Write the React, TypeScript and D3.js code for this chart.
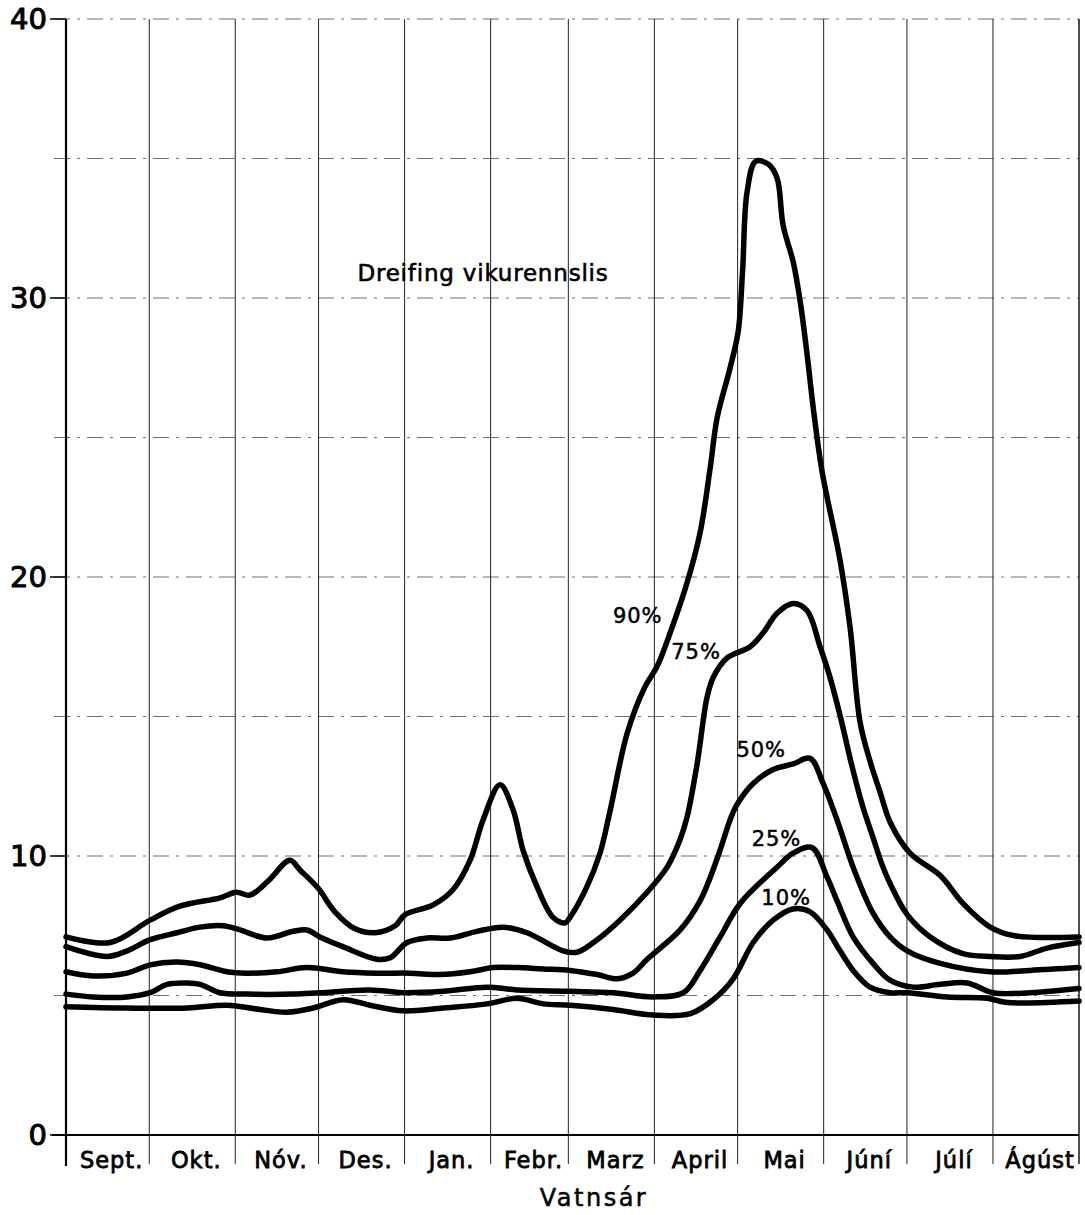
import React from "react";
import * as d3 from "d3";

// Month boundaries (days of the water year, Sept 1 = day 0)
const monthNames = ["Sept.", "Okt.", "Nóv.", "Des.", "Jan.", "Febr.", "Marz", "April", "Mai", "Júní", "Júlí", "Ágúst"];
const monthStartDays = [0, 30, 61, 91, 122, 153, 181, 212, 242, 273, 303, 334, 365];
const yTickLabels = [0, 10, 20, 30, 40];
const yGridValues = [5, 10, 15, 20, 25, 30, 35, 40];

// series: [day of water year, discharge]
const p90: [number, number][] = [
  [0, 7.1], [15.9, 6.9], [30.3, 7.7], [41, 8.2], [55.5, 8.5], [61.3, 8.7], [66.3, 8.6], [72.8, 9.1], [80.7, 9.85], [84.3, 9.5],
  [90.8, 8.85], [96.9, 8.0], [104, 7.4], [111.4, 7.25], [118.6, 7.5], [122.2, 7.9], [132.3, 8.25], [139.5, 8.8], [145.6, 9.85],
  [150.3, 11.3], [156.4, 12.55], [161.1, 11.65], [164.7, 10.2], [169.7, 8.9], [175.5, 7.8], [179.8, 7.6], [181.6, 7.8],
  [187.7, 8.9], [192.4, 10.1], [196, 11.6], [202.2, 14.4], [208.6, 16.06], [213, 16.8], [217.7, 18.0], [223.8, 19.8],
  [228.5, 21.6], [232.1, 23.9], [234.6, 25.7], [239.3, 27.5], [242.2, 28.8], [243.8, 31.0], [245.4, 33.8], [248.5, 34.9],
  [253, 34.8], [256.2, 34.3], [258.4, 32.6], [262, 31.3], [264.5, 29.9], [267, 28.0], [269.2, 26.1], [272.4, 23.8],
  [278.9, 20.6], [282.5, 18.2], [286.1, 14.8], [289.7, 13.4], [293.3, 12.3], [297, 11.2], [304.1, 10.1], [315, 9.3],
  [323.2, 8.3], [333, 7.45], [341.3, 7.15], [365, 7.1],
];
const p75: [number, number][] = [
  [0, 6.75], [14.8, 6.4], [22, 6.6], [30.3, 7.0], [40, 7.25], [48.3, 7.45], [56.6, 7.5], [62.7, 7.35], [72.4, 7.06],
  [81.8, 7.3], [86.8, 7.35], [91.5, 7.1], [99.8, 6.75], [112, 6.3], [116.8, 6.35], [122.9, 6.9], [130, 7.06], [138.4, 7.06],
  [148.1, 7.3], [157.5, 7.45], [166.1, 7.25], [179.1, 6.6], [184.1, 6.55], [191.4, 7.0], [199.6, 7.7], [209.4, 8.7],
  [216.6, 9.6], [221.3, 10.6], [223.8, 11.4], [227.4, 13.3], [231, 15.7], [233.2, 16.4], [238.2, 17.1], [246.5, 17.5],
  [251.2, 18.0], [256.2, 18.7], [262, 19.05], [267, 18.8], [271.7, 17.5], [275, 16.5], [279, 15.0], [283, 13.3],
  [287, 11.8], [291, 10.6], [294, 9.7], [297, 9.0], [303.1, 7.9], [311.4, 7.1], [323.2, 6.5], [333, 6.4], [343.8, 6.4],
  [353.5, 6.7], [365, 6.9],
];
const p50: [number, number][] = [
  [0, 5.85], [9.7, 5.7], [22, 5.8], [30.3, 6.1], [40, 6.2], [48.3, 6.1], [58, 5.85], [65.2, 5.8], [76, 5.85], [86.8, 6.0],
  [99.8, 5.85], [112, 5.8], [124, 5.8], [134.8, 5.75], [145.6, 5.85], [153.9, 6.0], [162.5, 6.0], [171.9, 5.95],
  [181.6, 5.9], [191.4, 5.75], [198.6, 5.6], [204.3, 5.8], [209.4, 6.3], [221.3, 7.35], [228.5, 8.4], [234.6, 9.9],
  [239.3, 11.3], [241.5, 11.8], [247.6, 12.6], [254.8, 13.1], [262, 13.3], [268.1, 13.5], [272.8, 12.6], [277.8, 11.3],
  [284, 9.5], [290.8, 7.95], [296.9, 7.1], [303.1, 6.6], [315, 6.15], [333, 5.85], [347.4, 5.9], [365, 6.0],
];
const p25: [number, number][] = [
  [0, 5.05], [9.7, 4.95], [22, 4.95], [30.3, 5.1], [36.4, 5.4], [43.6, 5.45], [48.3, 5.4], [55.5, 5.1], [65.2, 5.05],
  [81.8, 5.05], [91.5, 5.1], [109.5, 5.2], [121.4, 5.1], [135.9, 5.15], [151.7, 5.3], [162.5, 5.2], [181.6, 5.15],
  [197.1, 5.1], [211.5, 4.95], [222.5, 5.1], [228.5, 5.9], [235.7, 7.1], [242.9, 8.3], [256.2, 9.6], [262, 10.1],
  [268.8, 10.3], [274.2, 9.25], [277.8, 8.4], [283.6, 7.1], [290.8, 6.15], [296.9, 5.55], [305.2, 5.3], [315, 5.4],
  [324.7, 5.45], [334.1, 5.1], [347.4, 5.1], [365, 5.25],
];
const p10: [number, number][] = [
  [0, 4.6], [22, 4.55], [43.6, 4.55], [58, 4.65], [69.9, 4.5], [79.6, 4.4], [89, 4.55], [99.8, 4.85], [109.5, 4.65],
  [121.4, 4.45], [135.9, 4.55], [151.7, 4.7], [162.5, 4.9], [171.9, 4.7], [181.6, 4.65], [197.1, 4.5], [211.5, 4.3],
  [225, 4.35], [233.2, 4.85], [240.4, 5.6], [247.6, 6.9], [254.8, 7.7], [262, 8.1], [268.1, 8.0], [274.2, 7.35],
  [278.9, 6.6], [283.6, 5.9], [289.7, 5.3], [296.9, 5.1], [303.1, 5.1], [317.5, 4.95], [331.9, 4.9], [339.1, 4.75],
  [365, 4.8],
];

const seriesList = [p90, p75, p50, p25, p10];
const seriesLabels = ["90%", "75%", "50%", "25%", "10%"];
// label anchor points [day, value]
const labelAnchors: [number, number][] = [
  [206, 18.6], [227, 17.3], [250.5, 13.8], [256, 10.6], [259.5, 8.5],
];

const W = 1085;
const H = 1215;

export default function App() {
  const x = d3.scaleLinear().domain([0, 365]).range([66, 1079]);
  const y = d3.scaleLinear().domain([0, 40]).range([1135, 19]);
  const line = d3
    .line<[number, number]>()
    .x((d) => x(d[0]))
    .y((d) => y(d[1]))
    .curve(d3.curveCatmullRom.alpha(0.5));

  const font = "'DejaVu Sans', 'Liberation Sans', sans-serif";

  return (
    <svg
      width={W}
      height={H}
      viewBox={`0 0 ${W} ${H}`}
      style={{ position: "absolute", left: 0, top: 0, background: "#fff" }}
    >
      <rect x={0} y={0} width={W} height={H} fill="#fff" />
      {/* horizontal grid */}
      {yGridValues.map((v) => (
        <line
          key={"hg" + v}
          x1={54}
          x2={x(365)}
          y1={y(v)}
          y2={y(v)}
          stroke="#333"
          strokeWidth={1}
          strokeDasharray="16 7 3 7"
          opacity={0.7}
        />
      ))}
      {/* vertical month lines */}
      {monthStartDays.slice(1).map((d) => (
        <line
          key={"vg" + d}
          x1={x(d)}
          x2={x(d)}
          y1={y(40)}
          y2={1164}
          stroke="#222"
          strokeWidth={d === 365 ? 1.6 : 1}
        />
      ))}
      {/* left axis */}
      <line x1={x(0)} x2={x(0)} y1={y(40)} y2={1166} stroke="#000" strokeWidth={2.2} />
      {/* bottom axis */}
      <line x1={52} x2={x(365)} y1={y(0)} y2={y(0)} stroke="#000" strokeWidth={2} />
      {/* y ticks */}
      {yTickLabels.map((v) => (
        <g key={"yt" + v}>
          <line x1={50} x2={x(0)} y1={y(v)} y2={y(v)} stroke="#000" strokeWidth={1.5} />
          <text
            x={47}
            y={y(v)}
            textAnchor="end"
            dominantBaseline="central"
            fontFamily={font}
            fontSize={29}
            fill="#000"
            stroke="#000"
            strokeWidth={1}
          >
            {v}
          </text>
        </g>
      ))}
      {/* month labels */}
      {monthNames.map((m, i) => (
        <text
          key={m}
          x={(x(monthStartDays[i]) + x(monthStartDays[i + 1])) / 2 + 4}
          y={1168}
          textAnchor="middle"
          fontFamily={font}
          fontSize={22.5}
          letterSpacing={1}
          fill="#000"
          stroke="#000"
          strokeWidth={0.8}
        >
          {m}
        </text>
      ))}
      <text
        x={594}
        y={1206}
        textAnchor="middle"
        fontFamily={font}
        fontSize={24}
        letterSpacing={2.5}
        fill="#000"
        stroke="#000"
        strokeWidth={0.5}
      >
        Vatnsár
      </text>
      {/* title */}
      <text
        x={483}
        y={281}
        textAnchor="middle"
        fontFamily={font}
        fontSize={23}
        letterSpacing={0.8}
        fill="#000"
        stroke="#000"
        strokeWidth={0.6}
      >
        Dreifing vikurennslis
      </text>
      {/* series lines */}
      {seriesList.map((s, i) => (
        <path
          key={"s" + i}
          d={line(s) || ""}
          fill="none"
          stroke="#000"
          strokeWidth={5.5}
          strokeLinejoin="round"
          strokeLinecap="round"
        />
      ))}
      {/* series labels */}
      {seriesLabels.map((lab, i) => (
        <text
          key={lab}
          x={x(labelAnchors[i][0])}
          y={y(labelAnchors[i][1])}
          textAnchor="middle"
          dominantBaseline="central"
          fontFamily={font}
          fontSize={21}
          letterSpacing={1}
          fill="#000"
          stroke="#000"
          strokeWidth={0.5}
        >
          {lab}
        </text>
      ))}
    </svg>
  );
}
